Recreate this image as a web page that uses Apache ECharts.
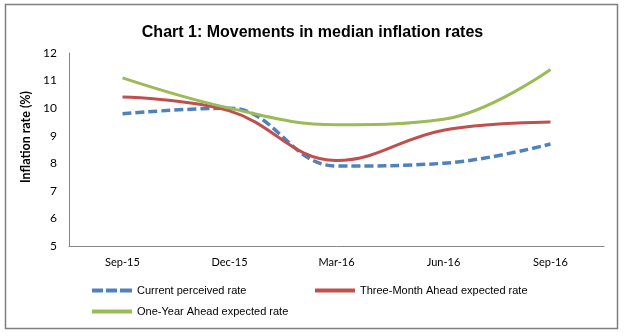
<!DOCTYPE html>
<html>
<head>
<meta charset="utf-8">
<script src="https://cdn.jsdelivr.net/npm/echarts@6/dist/echarts.min.js"></script>
<style>
  html, body { margin: 0; padding: 0; background: #fff; }
  #chart { width: 625px; height: 336px; }
</style>
</head>
<body>
<div id="chart"></div>
<script>
// Survey months
const categories = ['Sep-15', 'Dec-15', 'Mar-16', 'Jun-16', 'Sep-16'];

// Median inflation rates (%)
const currentPerceived = [9.8, 10.0, 7.9, 8.0, 8.7];
const threeMonthAhead = [10.4, 9.9, 8.1, 9.2, 9.5];
const oneYearAhead = [11.1, 10.0, 9.4, 9.6, 11.4];

// Y axis range
const yMin = 5, yMax = 12, yStep = 1;

const seriesNames = ['Current perceived rate', 'Three-Month Ahead expected rate', 'One-Year Ahead expected rate'];

const labelFont = 'Lato, "Open Sans", sans-serif';
const textFont = '"Liberation Sans", Arial, sans-serif';

// Legend keys: a dashed bar and a solid bar
const dashedIcon = 'path://M0,0h11v4h-11z M14,0h11v4h-11z M28,0h12v4h-12z';
const solidIcon = 'path://M0,0h40v4h-40z';

const chart = echarts.init(document.getElementById('chart'), null, { renderer: 'canvas' });

const legendBase = {
  orient: 'horizontal',
  padding: 0,
  itemWidth: 40,
  itemHeight: 4,
  itemGap: 4,
  textStyle: { fontFamily: textFont, fontSize: 11, color: '#000' },
  selectedMode: false
};

chart.setOption({
  animation: false,
  backgroundColor: '#fff',
  title: {
    text: 'Chart 1: Movements in median inflation rates',
    left: 'center',
    top: 20,
    textStyle: { fontFamily: textFont, fontSize: 16, fontWeight: 'bold', color: '#000' }
  },
  legend: [
    Object.assign({}, legendBase, { data: [{ name: seriesNames[0], icon: dashedIcon }], left: 92, top: 285 }),
    Object.assign({}, legendBase, { data: [{ name: seriesNames[1], icon: solidIcon }], left: 315, top: 285 }),
    Object.assign({}, legendBase, { data: [{ name: seriesNames[2], icon: solidIcon }], left: 92, top: 306 })
  ],
  grid: { left: 69, right: 21, top: 53, bottom: 90 },
  xAxis: {
    type: 'category',
    data: categories,
    boundaryGap: true,
    axisLine: { lineStyle: { color: '#868686', width: 1 } },
    axisTick: { show: false },
    axisLabel: { fontFamily: labelFont, fontSize: 11, color: '#000', margin: 11 }
  },
  yAxis: {
    type: 'value',
    min: yMin,
    max: yMax,
    interval: yStep,
    axisLine: { show: true, lineStyle: { color: '#868686', width: 1 } },
    axisTick: { show: false },
    splitLine: { show: false },
    axisLabel: { fontFamily: labelFont, fontSize: 12, color: '#000', margin: 12 }
  },
  graphic: [
    {
      type: 'rect',
      shape: { x: 5.5, y: 4.5, width: 612, height: 324 },
      style: { fill: 'none', stroke: '#7f7f7f', lineWidth: 1.5 },
      z: -1
    },
    {
      type: 'text',
      x: 26,
      y: 137,
      rotation: Math.PI / 2,
      style: {
        text: 'Inflation rate (%)',
        fontFamily: labelFont,
        fontSize: 12.5,
        fontWeight: 'bold',
        fill: '#000',
        align: 'center',
        verticalAlign: 'middle'
      }
    }
  ],
  series: [
    {
      name: seriesNames[0],
      type: 'line',
      data: currentPerceived,
      smooth: 0.4,
      symbol: 'none',
      lineStyle: { color: '#4F81BD', width: 3.5, type: [9, 4] },
      itemStyle: { color: '#4F81BD' },
      z: 2
    },
    {
      name: seriesNames[1],
      type: 'line',
      data: threeMonthAhead,
      smooth: 0.4,
      symbol: 'none',
      lineStyle: { color: '#C0504D', width: 3 },
      itemStyle: { color: '#C0504D' },
      z: 3
    },
    {
      name: seriesNames[2],
      type: 'line',
      data: oneYearAhead,
      smooth: 0.4,
      symbol: 'none',
      lineStyle: { color: '#9BBB59', width: 3 },
      itemStyle: { color: '#9BBB59' },
      z: 4
    }
  ]
});
</script>
</body>
</html>
